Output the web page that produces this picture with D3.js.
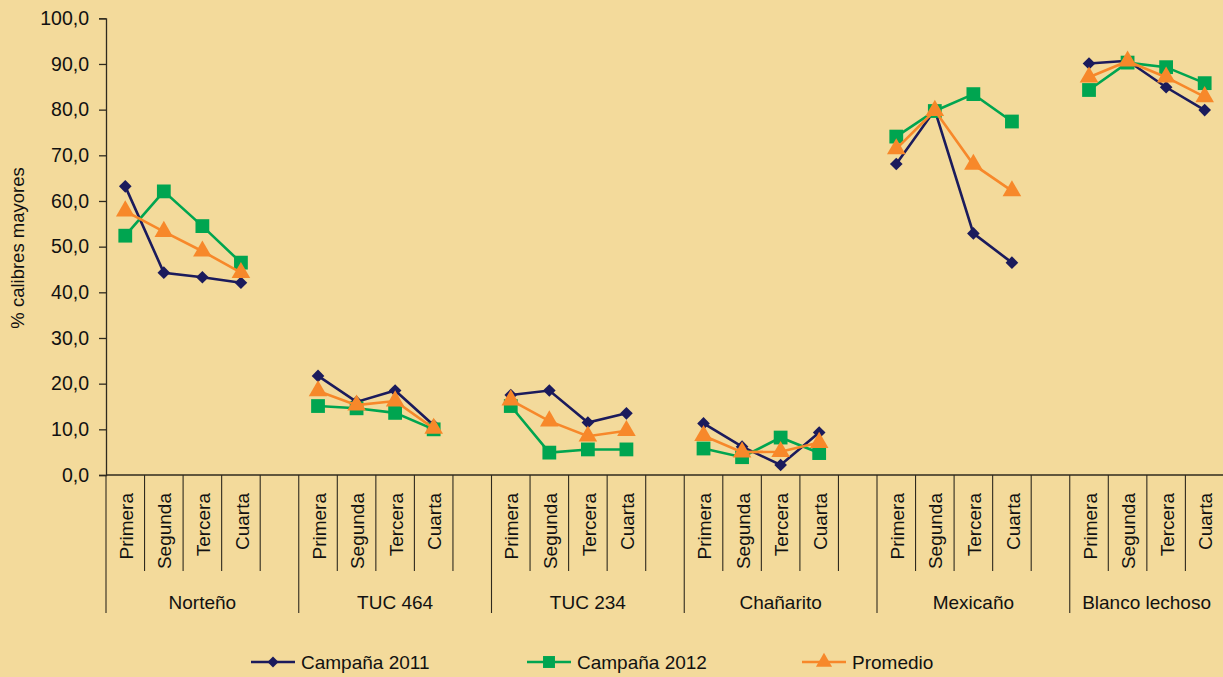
<!DOCTYPE html>
<html><head><meta charset="utf-8">
<script src="https://cdn.jsdelivr.net/npm/d3@7"></script>
<style>
html,body{margin:0;padding:0;background:#f3da9b;}
svg{display:block;font-family:Arial,"Liberation Sans",sans-serif;}
</style></head>
<body>
<svg id="chart" width="1223" height="677"></svg>
<script>
const groups = ["Norteño","TUC 464","TUC 234","Chañarito","Mexicaño","Blanco lechoso"];
const subcats = ["Primera","Segunda","Tercera","Cuarta"];
const yTicks = [0,10,20,30,40,50,60,70,80,90,100];
const seriesNames = ["Campaña 2011","Campaña 2012","Promedio"];
const campana2011 = [63.2,44.3,43.3,42.1, 21.7,16.0,18.5,10.9, 17.5,18.5,11.5,13.5, 11.3,6.2,2.2,9.3, 68.1,79.9,52.9,46.5, 90.1,90.7,84.9,79.9];
const campana2012 = [52.4,62.1,54.5,46.5, 15.1,14.6,13.6,10.0, 15.1,4.9,5.6,5.6, 5.8,3.9,8.2,4.8, 74.1,79.7,83.4,77.4, 84.3,90.3,89.3,85.8];
const promedio    = [57.8,53.3,49.0,44.3, 18.4,15.3,16.2,10.2, 16.4,11.8,8.5,9.7, 8.6,5.0,5.1,7.1, 71.4,79.8,68.0,62.2, 87.1,90.6,87.1,82.8];

const svg = d3.select("#chart");
const W = 1223, H = 677;
const x0 = 106, slotsPerGroup = 5, nSlots = groups.length*slotsPerGroup;
const slotW = 38.55;
const x = d3.scaleLinear().domain([0,nSlots]).range([x0, x0+nSlots*slotW]);
const y = d3.scaleLinear().domain([0,100]).range([475,18.3]);
const axisColor = "#2f2a1e";

// y axis
const yAxis = d3.axisLeft(y).tickValues(yTicks).tickSize(7).tickPadding(10)
  .tickFormat(d=>d3.format(".1f")(d).replace(".",","));
const gy = svg.append("g").attr("transform",`translate(${x0},0)`).call(yAxis);
gy.select(".domain").attr("stroke",axisColor).attr("stroke-width",1.3);
gy.selectAll(".tick line").attr("stroke",axisColor).attr("stroke-width",1.3);
gy.selectAll(".tick text").attr("font-size",19.5).attr("fill","#111").attr("font-family","Arial,'Liberation Sans',sans-serif");

svg.append("text").attr("transform","translate(24,248) rotate(-90)")
  .attr("text-anchor","middle").attr("font-size",18.5).attr("fill","#111")
  .text("% calibres mayores");

// x axis line
svg.append("line").attr("x1",x0).attr("x2",W).attr("y1",y(0)).attr("y2",y(0))
  .attr("stroke",axisColor).attr("stroke-width",1.3);
// slot boundaries
for(let i=0;i<=nSlots;i++){
  const isGroup = i%slotsPerGroup===0;
  svg.append("line").attr("x1",x(i)).attr("x2",x(i)).attr("y1",y(0))
    .attr("y2",isGroup?613:571).attr("stroke",axisColor).attr("stroke-width",1.1);
}
// category labels
groups.forEach((g,gi)=>{
  subcats.forEach((c,ci)=>{
    const cx = x(gi*slotsPerGroup+ci+0.5);
    svg.append("text").attr("transform",`translate(${cx+1},493) rotate(-90)`)
      .attr("text-anchor","end").attr("dy","0.35em").attr("font-size",19).attr("fill","#111")
      .text(c);
  });
  const gc = (x(gi*slotsPerGroup)+x((gi+1)*slotsPerGroup))/2;
  const t = svg.append("text").attr("x",gc).attr("y",609).attr("text-anchor","middle")
    .attr("font-size",19).attr("fill","#111").text(g);
  const w = t.node().getComputedTextLength();
  if(gc + w/2 > 1211) t.attr("x", 1211 - w/2);
});

// data points
const pts = [];
groups.forEach((g,gi)=>subcats.forEach((c,ci)=>pts.push(gi*slotsPerGroup+ci+0.5)));
const series = [
  {name:seriesNames[0], values:campana2011, color:"#1b1b5c", sym:d3.symbolSquare, size:80, rot:45},
  {name:seriesNames[1], values:campana2012, color:"#00a550", sym:d3.symbolSquare, size:190, rot:0},
  {name:seriesNames[2], values:promedio, color:"#f7882a", sym:d3.symbolTriangle, size:150, rot:0},
];
const line = d3.line().x(d=>x(d[0])).y(d=>y(d[1]));
series.forEach(s=>{
  const g = svg.append("g");
  for(let gi=0; gi<groups.length; gi++){
    const seg = [];
    for(let ci=0;ci<4;ci++){ const k=gi*4+ci; seg.push([pts[k], s.values[k]]); }
    g.append("path").attr("d",line(seg)).attr("fill","none").attr("stroke",s.color).attr("stroke-width",2.6);
  }
  s.values.forEach((v,k)=>{
    g.append("path").attr("d",d3.symbol().type(s.sym).size(s.size)())
      .attr("transform",`translate(${x(pts[k])},${y(v)}) rotate(${s.rot})`).attr("fill",s.color);
  });
});

// legend
const legX = [251, 527, 802];
series.forEach((s,i)=>{
  const lx = legX[i], ly = 662;
  svg.append("line").attr("x1",lx).attr("x2",lx+44).attr("y1",ly).attr("y2",ly)
    .attr("stroke",s.color).attr("stroke-width",2.6);
  svg.append("path").attr("d",d3.symbol().type(s.sym).size(s.size*0.75)())
    .attr("transform",`translate(${lx+22},${ly}) rotate(${s.rot})`).attr("fill",s.color);
  svg.append("text").attr("x",lx+50).attr("y",ly).attr("dy","0.35em")
    .attr("font-size",19).attr("fill","#111").text(s.name);
});
</script>
</body></html>
